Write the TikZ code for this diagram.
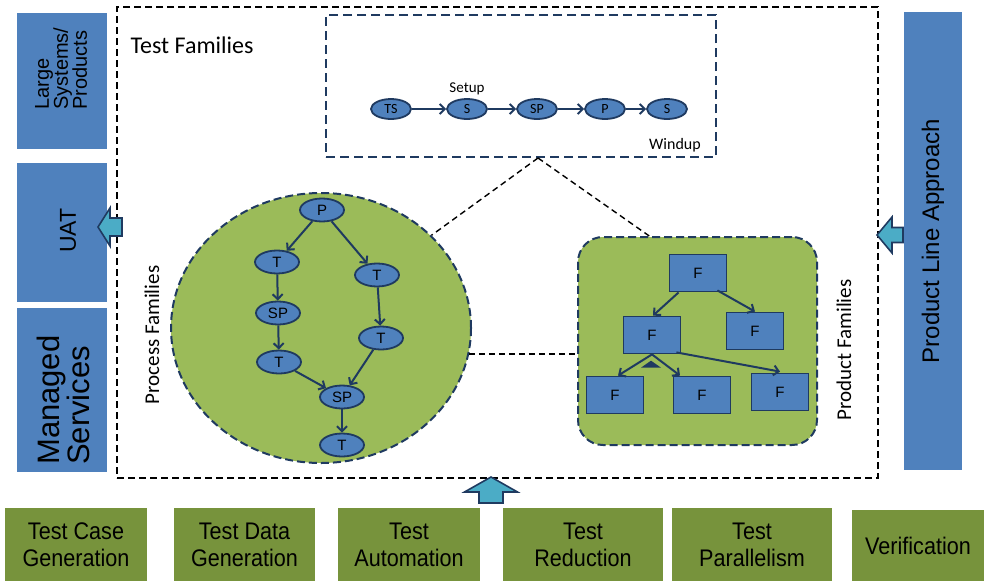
\documentclass[tikz,border=0pt]{standalone}
\usepackage{fontspec}
\setmainfont{Carlito}
\newfontfamily\arialfont{Liberation Sans}
\newfontfamily\narrowfont[FakeStretch=0.9]{Liberation Sans}
\usetikzlibrary{shapes.geometric,arrows.meta,calc}

\definecolor{boxblue}{HTML}{4F81BD}
\definecolor{navy}{HTML}{1F3A60}
\definecolor{leafgreen}{HTML}{9BBB59}
\definecolor{olivegreen}{HTML}{77933C}
\definecolor{tealfill}{HTML}{4BACC6}

\tikzset{
  sidebox/.style={fill=boxblue, inner sep=0pt, rotate=90, align=center},
  sidetext/.style={rotate=90, inner sep=0pt, align=left, anchor=west},
  toolbox/.style={fill=olivegreen, inner sep=0pt, align=center, font=\narrowfont\fontsize{24}{27}\selectfont},
  famframe/.style={draw=black, line width=1.3pt, dash pattern=on 7pt off 4pt},
  seqframe/.style={draw=navy, fill=white, line width=2pt, dash pattern=on 9pt off 5pt},
  famfill/.style={draw=navy, fill=leafgreen, line width=2pt, dash pattern=on 8pt off 4pt},
  seqnode/.style={ellipse, draw=navy, fill=boxblue, line width=1.8pt, inner sep=0pt,
    minimum width=40pt, minimum height=20pt, font=\fontsize{14}{16}\selectfont},
  procnode/.style={ellipse, draw=navy, fill=boxblue, line width=1.8pt, inner sep=0pt,
    minimum width=44pt, minimum height=23pt, font=\arialfont\fontsize{15}{17}\selectfont},
  fnode/.style={draw=navy, fill=boxblue, line width=1.8pt, inner sep=0pt,
    minimum width=57pt, minimum height=37pt, font=\arialfont\fontsize{15}{17}\selectfont},
  flow/.style={draw=navy, line width=2pt, -{Straight Barb[length=5pt,width=10pt]}},
  linkdash/.style={draw=black, line width=1.4pt, dash pattern=on 6pt off 4pt},
  blockarrow/.style={draw=navy, fill=tealfill, line width=1.6pt, line join=miter}
}

\begin{document}
\begin{tikzpicture}[x=1pt, y=-1pt]
\useasboundingbox (0,0) rectangle (984,581);

% outer frame of the test families
\node[famframe, minimum width=761pt, minimum height=471pt] (testfam) at (497.5,242.5) {};
\node[anchor=base west, font=\fontsize{24}{28}\selectfont] (tflabel) at (127,53) {Test Families};

% left and right columns
\node[sidebox, minimum width=136pt, minimum height=90pt] (large) at (62,81) {};
\node[sidetext, font=\arialfont\fontsize{20}{19}\selectfont] (largetxt) at (61,110) {Large\\Systems/\\Products};
\node[sidebox, minimum width=139pt, minimum height=90pt, font=\arialfont\fontsize{23}{26}\selectfont] (uat) at (62,232.5) {};
\node[rotate=90, inner sep=0pt, font=\arialfont\fontsize{23}{26}\selectfont] (uattxt) at (68,230.5) {UAT};
\node[sidebox, minimum width=164pt, minimum height=90pt] (managed) at (62,390) {};
\node[sidetext, font=\arialfont\fontsize{31}{30}\selectfont] (managedtxt) at (63.5,465) {Managed\\Services};
\node[sidebox, minimum width=458pt, minimum height=58pt, font=\arialfont\fontsize{24}{28}\selectfont] (plapproach) at (933,241) {Product Line Approach};

% bottom row
\node[toolbox, minimum width=142pt, minimum height=73pt] (tcgen) at (76,544.5) {Test Case\\Generation};
\node[toolbox, minimum width=141pt, minimum height=73pt] (tdgen) at (244.5,544.5) {Test Data\\Generation};
\node[toolbox, minimum width=142pt, minimum height=73pt] (tauto) at (409,544.5) {Test\\Automation};
\node[toolbox, minimum width=160pt, minimum height=73pt] (tred) at (583,544.5) {Test\\Reduction};
\node[toolbox, minimum width=160pt, minimum height=73pt] (tpar) at (752,544.5) {Test\\Parallelism};
\node[toolbox, minimum width=132pt, minimum height=71pt] (verif) at (918,545.5) {Verification};

% sequence box
\node[seqframe, minimum width=390pt, minimum height=142pt] (seqbox) at (521,86) {};
\node[seqnode] (ts) at (391,109) {TS};
\node[seqnode] (setup) at (467,109) {S};
\node[seqnode] (sp) at (537,109) {SP};
\node[seqnode] (pr) at (605,109) {P};
\node[seqnode] (windup) at (667,109) {S};
\draw[flow] (ts) -- (setup);
\draw[flow] (setup) -- (sp);
\draw[flow] (sp) -- (pr);
\draw[flow] (pr) -- (windup);
\node[font=\fontsize{15}{18}\selectfont] (setuplbl) at (467,89) {Setup};
\node[font=\fontsize{16}{18}\selectfont] (winduplbl) at (675,145) {Windup};

% process families
\node[ellipse, famfill, minimum width=300pt, minimum height=270pt] (procfam) at (321,328) {};
\node[rotate=90, font=\fontsize{21}{25}\selectfont] (proclbl) at (152,335) {Process Families};
\node[procnode] (p) at (322,210) {P};
\node[procnode] (tl) at (277,262) {T};
\node[procnode] (tr) at (377,275) {T};
\node[procnode] (spl) at (278,313) {SP};
\node[procnode] (trb) at (381,338) {T};
\node[procnode] (tlb) at (279,362) {T};
\node[procnode] (spm) at (342,397) {SP};
\node[procnode] (tend) at (342,445) {T};
\draw[flow] (p) -- (tl);
\draw[flow] (p) -- (tr);
\draw[flow] (tl) -- (spl);
\draw[flow] (spl) -- (tlb);
\draw[flow] (tlb) -- (spm);
\draw[flow] (tr) -- (trb);
\draw[flow] (trb) -- (spm);
\draw[flow] (spm) -- (tend);

% product families
\node[famfill, rounded corners=25pt, minimum width=239pt, minimum height=208pt] (prodfam) at (697.5,341) {};
\node[rotate=90, font=\fontsize{21}{25}\selectfont] (prodlbl) at (844,350) {Product Families};
\node[fnode] (ftop) at (698,273) {F};
\node[fnode] (fright) at (755,331) {F};
\node[fnode] (fmid) at (652,335) {F};
\node[fnode] (fa) at (615,395) {F};
\node[fnode] (fb) at (702,395) {F};
\node[fnode] (fc) at (780,392) {F};
\draw[flow] ($(ftop.south west)+(10,0)$) -- ($(fmid.north)+(1,0)$);
\draw[flow] ($(ftop.south east)+(-10,-2)$) -- (fright.north);
\draw[flow] (fmid.south) -- ($(fa.north)+(3,0)$);
\draw[flow] (fmid.south) -- ($(fb.north)+(-22,0)$);
\draw[flow] ($(fmid.south east)+(-5,-2)$) -- ($(fc.north)+(0,-1)$);
\node[isosceles triangle, shape border rotate=90, isosceles triangle stretches, fill=navy,
  inner sep=0pt, minimum height=7pt, minimum width=20pt] (tri) at (651,364.5) {};

% dashed links
\coordinate (seqfoot) at ($(seqbox.south)+(17,0)$);
\draw[linkdash] (seqfoot) -- (procfam.40);
\draw[linkdash] (seqfoot) -- ($(prodfam.north west)!0.3!(prodfam.north east)$);
\draw[linkdash] (procfam.-10) -- (procfam.-10 -| prodfam.west);

% block arrows
\coordinate (uattip) at (98,227);
\coordinate (plaptip) at (877,235);
\coordinate (uptip) at (491,477);
\draw[blockarrow] (uattip) -- ++(12,-19) -- ++(0,10) -- ++(12,0) -- ++(0,18) -- ++(-12,0) -- ++(0,10) -- cycle;
\draw[blockarrow] (plaptip) -- ++(15,-18) -- ++(0,10.5) -- ++(11,0) -- ++(0,15) -- ++(-11,0) -- ++(0,10.5) -- cycle;
\draw[blockarrow] (uptip) -- ++(26.5,15) -- ++(-14.5,0) -- ++(0,11) -- ++(-24,0) -- ++(0,-11) -- ++(-14.5,0) -- cycle;
\end{tikzpicture}
\end{document}
